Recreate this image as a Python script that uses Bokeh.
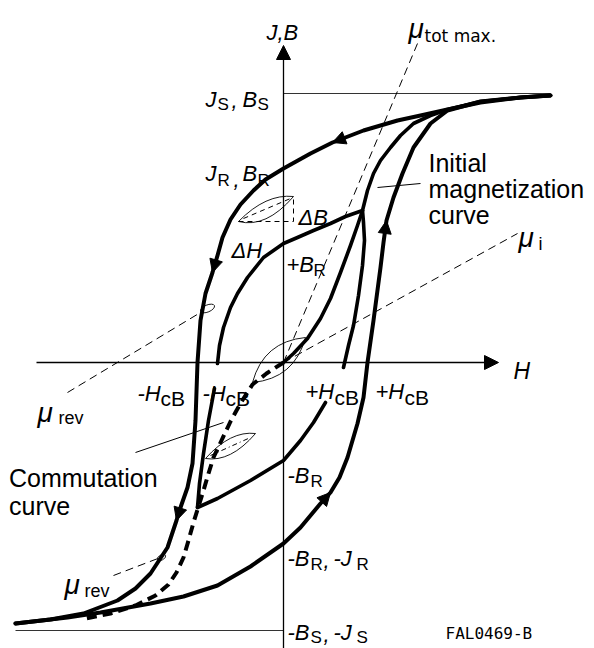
from bokeh.plotting import figure
from bokeh.models import Range1d, Arrow, NormalHead
from bokeh.core.properties import value
from bokeh.embed import file_html
from bokeh.resources import INLINE

# ---------------- data (H, B in arbitrary units) ----------------
# major loop, descending branch (from +saturation to -saturation)
desc_H = [2.67, 2.37, 1.97, 1.64, 1.37, 1.14, 0.80, 0.49, 0.27, 0.00, -0.18, -0.30,
          -0.43, -0.53, -0.61, -0.66, -0.71, -0.78, -0.83, -0.86, -0.88, -0.91, -0.96,
          -1.03, -1.07, -1.16, -1.33, -1.48, -1.66, -2.00, -2.33, -2.68]
desc_B = [2.67, 2.65, 2.60, 2.53, 2.47, 2.42, 2.32, 2.20, 2.09, 1.94, 1.83, 1.72,
          1.58, 1.43, 1.25, 1.07, 0.90, 0.69, 0.42, 0.00, -0.58, -1.01, -1.25,
          -1.45, -1.58, -1.85, -2.11, -2.26, -2.38, -2.51, -2.57, -2.61]
# major loop, ascending branch
asc_H = [-2.68, -2.16, -1.83, -1.33, -1.00, -0.66, -0.33, 0.00, 0.17, 0.37, 0.47, 0.56,
         0.64, 0.74, 0.80, 0.84, 0.90, 0.97, 1.00, 1.03, 1.10, 1.19, 1.30, 1.47, 1.64,
         1.97, 2.37, 2.67]
asc_B = [-2.61, -2.55, -2.50, -2.41, -2.34, -2.23, -2.04, -1.81, -1.65, -1.41, -1.30, -1.15,
         -0.95, -0.61, -0.35, 0.00, 0.42, 0.95, 1.20, 1.42, 1.65, 1.89, 2.15, 2.39, 2.52,
         2.61, 2.65, 2.67]
# initial magnetization curve
init_H = [0.00, 0.10, 0.24, 0.37, 0.47, 0.57, 0.67, 0.74, 0.79, 0.84, 0.90, 0.97, 1.07,
          1.17, 1.30, 1.47, 1.64, 1.97, 2.37, 2.67]
init_B = [0.00, 0.09, 0.24, 0.44, 0.64, 0.90, 1.17, 1.37, 1.52, 1.72, 1.89, 2.02, 2.15,
          2.27, 2.39, 2.47, 2.53, 2.61, 2.65, 2.67]
# minor (recoil) loop, descending part (two pieces around the -HcB label)
mdesc1_H = [0.79, 0.62, 0.47, 0.30, 0.14, 0.00, -0.20, -0.36, -0.46, -0.53, -0.60, -0.64, -0.66]
mdesc1_B = [1.52, 1.46, 1.39, 1.32, 1.25, 1.19, 1.05, 0.85, 0.69, 0.55, 0.35, 0.17, -0.01]
mdesc2_H = [-0.69, -0.75, -0.80, -0.84, -0.86]
mdesc2_B = [-0.26, -0.58, -0.91, -1.21, -1.45]
# minor loop, ascending part (two pieces around the +HcB label)
masc1_H = [-0.86, -0.66, -0.33, 0.00, 0.17, 0.30, 0.42]
masc1_B = [-1.45, -1.36, -1.18, -0.98, -0.78, -0.60, -0.40]
masc2_H = [0.60, 0.65, 0.70, 0.75, 0.79, 0.81, 0.80, 0.79]
masc2_B = [-0.05, 0.17, 0.37, 0.67, 0.97, 1.22, 1.40, 1.52]
# commutation curve
comm_H = [0.00, -0.17, -0.31, -0.40, -0.47, -0.53, -0.62, -0.70, -0.75, -0.80, -0.85,
          -0.90, -0.95, -1.00, -1.07, -1.15, -1.28, -1.48, -1.73, -1.98]
comm_B = [0.00, -0.11, -0.22, -0.36, -0.48, -0.59, -0.78, -0.95, -1.11, -1.28, -1.44,
          -1.60, -1.78, -1.95, -2.10, -2.22, -2.33, -2.43, -2.51, -2.56]

# saturation levels
sat_top_H = [0.00, 2.67]
sat_top_B = [2.69, 2.69]
sat_bot_H = [-2.68, 0.00]
sat_bot_B = [-2.68, -2.68]

# permeability lines
mu_tot_H = [0.00, 1.34]
mu_tot_B = [0.00, 3.19]
mu_i_H = [0.00, 2.34]
mu_i_B = [0.00, 1.29]
mu_rev1_H = [-2.16, -0.83]
mu_rev1_B = [-0.30, 0.50]
mu_rev2_H = [-1.70, -1.23]
mu_rev2_B = [-2.13, -1.95]

# lens-shaped minor loops (two arcs each)
lens_x0 = [-0.45, -0.45, -0.31, -0.31, -0.78, -0.78]
lens_y0 = [1.41, 1.41, -0.20, -0.20, -0.96, -0.96]
lens_x1 = [0.10, 0.10, 0.22, 0.22, -0.28, -0.28]
lens_y1 = [1.66, 1.66, 0.25, 0.25, -0.71, -0.71]
lens_cx = [-0.175, -0.175, -0.20, 0.11, -0.53, -0.53]
lens_cy = [1.69, 1.34, 0.21, -0.16, -0.68, -1.00]
chord1_H = [-0.40, 0.07]
chord1_B = [1.44, 1.64]
chord3_H = [-0.73, -0.33]
chord3_B = [-0.93, -0.75]
dH_dB_H = [-0.45, 0.10, 0.10]
dH_dB_B = [1.41, 1.41, 1.66]

# small reversible ellipses
ell_H = [-0.76, -1.22]
ell_B = [0.54, -1.95]
ell_w = [0.15, 0.09]
ell_h = [0.07, 0.05]
ell_a = [0.4, 0.5]

# leader lines
lead_comm_H = [-1.48, -0.60]
lead_comm_B = [-0.90, -0.60]
lead_init_H = [0.94, 1.37]
lead_init_B = [1.75, 1.79]

# coordinate axes
axis_H = [-2.47, 2.15]
axis_B = [-2.95, 3.17]

# ---------------- figure ----------------
p = figure(width=594, height=648, x_range=Range1d(-2.83, 3.11), y_range=Range1d(-2.86, 3.62),
           output_backend="svg", toolbar_location=None, x_axis_location=None,
           y_axis_location=None, min_border=0)
p.grid.visible = False
p.outline_line_color = None
p.background_fill_color = "white"

# axes with arrows
p.add_layout(Arrow(end=NormalHead(size=14, fill_color="black", line_color="black"),
                   x_start=axis_H[0], y_start=0, x_end=axis_H[1], y_end=0,
                   line_width=1.3, line_color="black"))
p.add_layout(Arrow(end=NormalHead(size=14, fill_color="black", line_color="black"),
                   x_start=0, y_start=axis_B[0], x_end=0, y_end=axis_B[1],
                   line_width=1.3, line_color="black"))

# saturation lines
p.line(sat_top_H, sat_top_B, line_width=1, line_color="#333333")
p.line(sat_bot_H, sat_bot_B, line_width=1, line_color="#333333")

# permeability lines
for hx, by in [(mu_tot_H, mu_tot_B), (mu_i_H, mu_i_B), (mu_rev1_H, mu_rev1_B), (mu_rev2_H, mu_rev2_B)]:
    p.line(hx, by, line_width=1, line_color="black", line_dash="8 5")

# lenses
p.quadratic(x0=lens_x0, y0=lens_y0, x1=lens_x1, y1=lens_y1, cx=lens_cx, cy=lens_cy,
            line_color="black", line_width=0.9)
p.line(chord1_H, chord1_B, line_width=1, line_color="black", line_dash="5 4")
p.line(chord3_H, chord3_B, line_width=1, line_color="black", line_dash="5 3 1 3")
p.line(dH_dB_H, dH_dB_B, line_width=1, line_color="black", line_dash="5 4")
p.ellipse(x=ell_H, y=ell_B, width=ell_w, height=ell_h, angle=ell_a,
          fill_color=None, line_color="black", line_width=0.9)

# leader lines
p.line(lead_comm_H, lead_comm_B, line_width=1, line_color="black")
p.line(lead_init_H, lead_init_B, line_width=1, line_color="black")

# curves
for hx, by, w in [(desc_H, desc_B, 4), (asc_H, asc_B, 4), (init_H, init_B, 3.6),
                  (mdesc1_H, mdesc1_B, 3.6), (mdesc2_H, mdesc2_B, 3.6),
                  (masc1_H, masc1_B, 3.6), (masc2_H, masc2_B, 3.6)]:
    p.line(hx, by, line_width=w, line_color="black", line_join="round", line_cap="round")
p.line(comm_H, comm_B, line_width=4, line_color="black", line_dash="10 6")

# arrowheads on the loop, pointing from the previous point to the tip point
tips = [(desc_H, desc_B, desc_H.index(0.49)), (desc_H, desc_B, desc_H.index(-0.71)),
        (desc_H, desc_B, desc_H.index(-1.07)), (asc_H, asc_B, asc_H.index(0.47)),
        (asc_H, asc_B, asc_H.index(1.03))]
for hx, by, i in tips:
    p.add_layout(Arrow(end=NormalHead(size=13, fill_color="black", line_color="black"),
                       x_start=hx[i - 1], y_start=by[i - 1], x_end=hx[i], y_end=by[i],
                       line_alpha=0))

# ---------------- texts ----------------
FONT = value("Liberation Sans")

def txt(items, size, style="normal", font=FONT):
    p.text(x=[t[1] for t in items], y=[t[2] for t in items], text=[t[0] for t in items],
           text_font=font, text_font_size=size, text_font_style=style,
           text_baseline="alphabetic", text_align="left", text_color="black")

txt([("J,B", -0.17, 3.30),
     ("J", -0.78, 2.63), (",", -0.52, 2.62), ("B", -0.41, 2.63),
     ("J", -0.78, 1.89), (",", -0.50, 1.83), ("B", -0.41, 1.89),
     ("ΔH", -0.52, 1.12), ("ΔB", 0.15, 1.45), ("+B", 0.03, 0.98),
     ("-H", -1.46, -0.31), ("-H", -0.81, -0.31), ("+H", 0.22, -0.29), ("+H", 0.92, -0.29),
     ("-B", 0.04, -1.13),
     ("-B", 0.04, -1.96), (",", 0.40, -1.98), ("-J", 0.50, -1.96),
     ("-B", 0.04, -2.70), (",", 0.40, -2.72), ("-J", 0.50, -2.70)], "22px", "italic")
txt([("H", 2.30, -0.08)], "23px", "italic")
txt([("S", -0.66, 2.58), ("S", -0.26, 2.58), ("R", -0.66, 1.82), ("R", -0.26, 1.82),
     ("R", 0.30, 0.92), ("R", 0.27, -1.19), ("R", 0.27, -2.02), ("R", 0.73, -2.02),
     ("S", 0.27, -2.75), ("S", 0.73, -2.75)], "17px")
txt([("cB", -1.23, -0.36), ("cB", -0.58, -0.36), ("cB", 0.51, -0.35), ("cB", 1.21, -0.35)], "21px")
txt([("μ", 1.25, 3.34), ("μ", 2.35, 1.25), ("μ", -2.46, -0.50), ("μ", -2.19, -2.22)], "28px", "italic")
txt([("i", 2.55, 1.19), ("rev", -2.25, -0.55), ("rev", -1.99, -2.28)], "18px")
txt([("tot max.", 1.41, 3.27)], "17px", font=value("DejaVu Sans"))
txt([("Initial", 1.45, 2.00), ("magnetization", 1.45, 1.74), ("curve", 1.45, 1.48),
     ("Commutation", -2.745, -1.15), ("curve", -2.745, -1.43)], "25px")
txt([("FAL0469-B", 1.62, -2.71)], "16px", font=value("DejaVu Sans Mono"))

open("out.html", "w").write(file_html(p, INLINE))
